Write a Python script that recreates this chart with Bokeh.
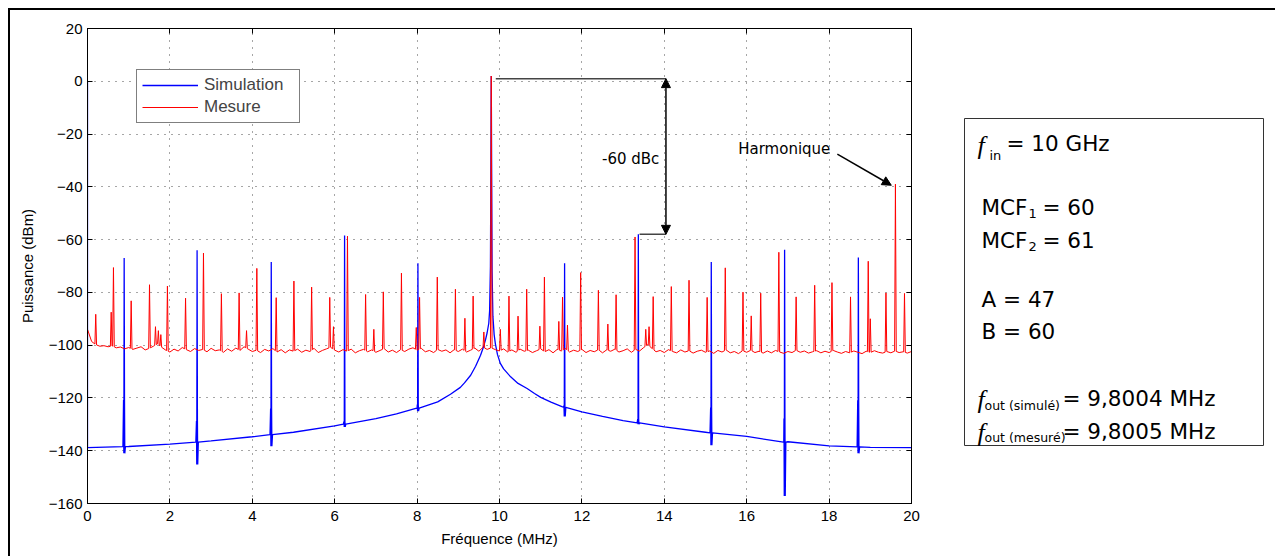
import numpy as np
from bokeh.plotting import figure
from bokeh.models import (Range1d, LinearAxis, FixedTicker, CustomJSTickFormatter, Legend,
                          LegendItem, Arrow, NormalHead, Label)
from bokeh.layouts import row
from bokeh.embed import file_html
from bokeh.resources import INLINE

# ---------------- data ----------------
x_ticks = [0, 2, 4, 6, 8, 10, 12, 14, 16, 18, 20]
y_ticks = [-160, -140, -120, -100, -80, -60, -40, -20, 0, 20]

# Mesure (red): noise floor sampled every 0.1 MHz, 0 .. 20 MHz
red_floor_step = 0.1
red_floor = [
    -94.0, -98.6, -99.8, -100.4, -100.2, -100.6, -100.3, -101.0, -100.7, -101.4,
    -100.9, -101.6, -101.1, -100.6, -101.8, -101.2, -100.4, -99.5, -100.8, -101.9,
    -102.6, -101.5, -102.2, -100.9, -101.7, -102.4, -101.3, -102.0, -101.6, -102.5,
    -101.2, -102.1, -101.8, -102.7, -101.4, -102.3, -101.1, -102.0, -100.6, -101.5,
    -102.4, -101.9, -102.8, -101.6, -102.2, -101.3, -102.6, -101.7, -102.9, -101.8,
    -102.3, -101.5, -102.7, -101.9, -102.4, -101.2, -102.8, -102.0, -101.4, -100.8,
    -101.9, -102.6, -101.7, -102.3, -101.5, -102.9, -102.1, -101.6, -102.5, -101.8,
    -102.7, -102.0, -101.3, -102.6, -101.9, -102.8, -101.7, -102.4, -101.5, -101.0,
    -101.9, -101.2, -102.5, -102.0, -102.8, -101.6, -102.3, -101.8, -102.9, -101.7,
    -102.4, -101.5, -102.6, -101.9, -101.1, -102.3, -100.8, -101.6, -101.0, -101.7,
    -102.2, -101.4, -102.6, -101.8, -102.7, -101.5, -102.3, -101.9, -102.8, -102.1,
    -101.4, -102.5, -101.7, -102.9, -101.6, -102.2, -101.3, -102.6, -101.9, -102.4,
    -101.6, -102.8, -102.0, -102.5, -101.7, -102.9, -101.8, -102.3, -101.5, -102.6,
    -102.1, -101.4, -102.7, -101.6, -102.2, -100.9, -99.8, -101.2, -102.5, -102.0,
    -102.8, -101.7, -102.4, -102.9, -101.8, -102.6, -102.1, -103.0, -102.3, -101.9,
    -102.7, -102.2, -103.1, -102.0, -102.6, -101.8, -102.9, -102.4, -103.2, -102.1,
    -102.7, -101.9, -102.8, -102.3, -103.0, -102.2, -102.9, -102.0, -102.6, -103.1,
    -102.4, -102.8, -101.9, -102.7, -102.2, -103.0, -102.5, -102.1, -102.9, -102.3,
    -102.8, -102.0, -102.6, -103.1, -102.4, -102.9, -102.2, -102.7, -103.2, -102.3,
    -102.8, -102.1, -102.7, -103.0, -102.4, -102.9, -102.2, -102.8, -102.5, -103.0,
    -102.4,
]
red_dc = -37.0
red_spur_freq = [
    0.20, 0.575, 0.63, 1.06, 1.505, 1.65, 1.72, 1.78, 1.94, 2.38, 2.815, 3.25, 3.68,
    3.86, 4.11, 4.58, 5.01, 5.44, 5.88, 5.97, 6.31, 6.75, 6.95, 7.18, 7.62, 7.98,
    8.06, 8.49, 8.93, 9.16, 9.36, 9.62, 9.80, 10.02, 10.23, 10.45, 10.66, 10.98,
    11.09, 11.44, 11.53, 11.65, 11.97, 12.40, 12.63, 12.83, 13.29, 13.55, 13.63,
    13.73, 14.17, 14.60, 15.04, 15.48, 15.91, 16.11, 16.34, 16.78, 17.20, 17.65,
    18.07, 18.52, 18.95, 19.00, 19.38, 19.61, 19.83,
]
red_spur_level = [
    -88.3, -87.5, -70.6, -83.2, -77.1, -93.0, -94.5, -96.0, -77.6, -82.2, -65.1, -80.5, -80.2,
    -94.5, -70.9, -82.0, -75.7, -78.0, -81.9, -93.0, -58.7, -80.8, -94.0, -79.8, -72.7, -93.3,
    -81.9, -74.2, -78.8, -89.8, -81.4, -95.0, 2.0, -94.0, -81.4, -89.0, -78.8, -92.8,
    -74.2, -91.0, -81.8, -92.4, -72.5, -79.2, -92.0, -80.9, -59.0, -94.0, -93.0,
    -81.6, -77.8, -75.4, -81.9, -70.7, -79.9, -88.9, -80.3, -64.8, -81.7, -77.3,
    -76.3, -81.7, -68.2, -90.0, -80.2, -39.0, -80.4,
]

# Simulation (blue): smooth floor + carrier skirt
blue_dc = 0.0
blue_base_freq = [0.0, 1.0, 2.0, 3.0, 4.0, 5.0, 6.0, 7.0, 7.5, 8.0, 8.5, 8.81, 9.05, 9.15,
                  9.3, 9.42, 9.54, 9.6, 9.66, 9.70, 9.74, 9.76, 9.78, 9.80, 9.82, 9.84,
                  9.87, 9.9, 9.95, 10.02, 10.1, 10.27, 10.45, 10.67, 10.85, 11.0, 11.25,
                  11.5, 12.0, 12.5, 13.0, 14.0, 15.0, 16.0, 16.9, 17.0, 18.0, 19.0, 20.0]
blue_base_level = [-138.8, -138.4, -137.5, -136.3, -134.7, -133.0, -130.6, -127.8, -126.0,
                   -124.0, -121.5, -118.6, -116.0, -114.3, -111.4, -108.0, -103.8, -101.2,
                   -98.0, -95.3, -91.7, -87.0, -70.0, 2.0, -72.0, -89.0, -96.0, -99.5,
                   -103.5, -106.9, -109.0, -112.0, -114.5, -116.4, -118.3, -119.8, -121.6,
                   -123.2, -125.3, -127.0, -128.6, -131.0, -133.0, -134.6, -136.8, -136.6,
                   -138.2, -138.7, -138.8]
# Simulation spurs: frequency, top, small overshoot and dip at the base
blue_spur_freq = [0.89, 2.66, 4.46, 6.24, 8.02, 11.58, 13.37, 15.14, 16.92, 18.71]
blue_spur_peak = [-67.0, -64.0, -68.5, -58.4, -69.0, -69.0, -58.0, -68.5, -63.8, -66.8]
blue_spur_hi = [-120.8, -128.7, -124.0, -129.0, -122.5, -123.0, -128.0, -123.6, -127.8, -120.9]
blue_spur_lo = [-141.0, -145.2, -138.3, -131.0, -125.0, -127.0, -130.0, -137.9, -157.2, -141.0]

# annotation values
carrier_ref_level = 1.0
spur_ref_level = -58.0
dbc_arrow_freq = 14.04
dbc_line_start = 9.91
dbc_spur_line_start = 13.40
dbc_text_pos = (13.88, -29.5)
harm_text_pos = (18.03, -25.5)
harm_arrow = (18.20, -27.6, 19.51, -39.4)

# ---------------- build traces ----------------
fg = np.arange(len(red_floor)) * red_floor_step
floor = np.array(red_floor)
hw = 0.02
keep = np.ones(len(fg), dtype=bool)
for f in red_spur_freq:
    keep &= np.abs(fg - f) > hw
pts = list(zip(fg[keep], floor[keep]))
for f, lvl in zip(red_spur_freq, red_spur_level):
    pts.append((f - hw, float(np.interp(f - hw, fg, floor))))
    pts.append((f, lvl))
    pts.append((f + hw, float(np.interp(f + hw, fg, floor))))
pts.sort(key=lambda t: t[0])
red_x = [0.0] + [p[0] for p in pts]
red_y = [red_dc] + [p[1] for p in pts]

bx = np.array(blue_base_freq)
by = np.array(blue_base_level)
bpts = list(zip(bx, by))
for f, pk, hi, lo in zip(blue_spur_freq, blue_spur_peak, blue_spur_hi, blue_spur_lo):
    b = float(np.interp(f, bx, by))
    bpts += [(f - 0.03, b), (f - 0.015, hi), (f - 0.008, lo), (f, pk),
             (f + 0.008, hi), (f + 0.015, lo), (f + 0.03, b)]
bpts.sort(key=lambda t: t[0])
blue_x = [0.0] + [p[0] for p in bpts]
blue_y = [blue_dc] + [p[1] for p in bpts]

# ---------------- main figure ----------------
FONT = "Liberation Sans"
p = figure(frame_width=824, frame_height=475, min_border_left=77, min_border_right=29,
           min_border_top=18, min_border_bottom=53,
           x_range=Range1d(0, 20), y_range=Range1d(-160, 20),
           toolbar_location=None, output_backend="svg")
p.outline_line_color = "black"
p.outline_line_width = 1
p.background_fill_color = "white"
p.border_fill_color = "white"

fmt = CustomJSTickFormatter(code="return tick < 0 ? '\u2212' + Math.abs(tick) : String(tick);")
for ax in p.xaxis + p.yaxis:
    ax.major_tick_in = 5
    ax.major_tick_out = 0
    ax.minor_tick_in = 0
    ax.minor_tick_out = 0
    ax.axis_line_color = "black"
    ax.major_tick_line_color = "black"
    ax.major_label_text_font = FONT
    ax.major_label_text_font_size = "15px"
    ax.major_label_text_color = "black"
    ax.axis_label_text_font = FONT
    ax.axis_label_text_font_size = "15px"
    ax.axis_label_text_font_style = "normal"
    ax.axis_label_text_color = "black"
p.xaxis.ticker = FixedTicker(ticks=x_ticks)
p.yaxis.ticker = FixedTicker(ticks=y_ticks)
p.yaxis.formatter = fmt
p.xaxis.axis_label = "Fréquence (MHz)"
p.yaxis.axis_label = "Puissance (dBm)"
p.xaxis.major_label_standoff = 7
p.yaxis.major_label_standoff = 5
p.xaxis.axis_label_standoff = 6
p.yaxis.axis_label_standoff = 10

blank = CustomJSTickFormatter(code="return '';")
for loc, tks in (("above", x_ticks), ("right", y_ticks)):
    ax = LinearAxis(ticker=FixedTicker(ticks=tks), formatter=blank, major_tick_in=5,
                    major_tick_out=0, minor_tick_in=0, minor_tick_out=0,
                    major_label_standoff=0, axis_line_color="black")
    p.add_layout(ax, loc)

p.xgrid.ticker = FixedTicker(ticks=x_ticks)
p.ygrid.ticker = FixedTicker(ticks=y_ticks)
for g in (p.xgrid, p.ygrid):
    g.grid_line_color = "#222222"
    g.grid_line_alpha = 0.8
    g.grid_line_dash = "1 6"
    g.grid_line_width = 1

r_sim = p.line(blue_x, blue_y, line_color="#0000ff", line_width=1.3)
r_mes = p.line(red_x, red_y, line_color="#ff0000", line_width=1.0)

legend = Legend(items=[LegendItem(label="Simulation", renderers=[r_sim]),
                       LegendItem(label="Mesure", renderers=[r_mes])],
                location=(49, 380), padding=5, spacing=2, margin=0,
                glyph_width=56, glyph_height=20, label_standoff=6, label_width=90,
                label_text_font=FONT, label_text_font_size="17px",
                border_line_color="black", border_line_width=1,
                background_fill_color="white", background_fill_alpha=1.0)
p.add_layout(legend)

# -60 dBc annotation
p.segment(x0=[dbc_line_start, dbc_spur_line_start], x1=[dbc_arrow_freq, dbc_arrow_freq],
          y0=[carrier_ref_level, spur_ref_level], y1=[carrier_ref_level, spur_ref_level],
          line_color="#444444", line_width=1.5)
p.add_layout(Arrow(start=NormalHead(size=9, fill_color="black", line_color="black"),
                   end=NormalHead(size=9, fill_color="black", line_color="black"),
                   x_start=dbc_arrow_freq, y_start=carrier_ref_level,
                   x_end=dbc_arrow_freq, y_end=spur_ref_level,
                   line_color="black", line_width=1.5))
p.add_layout(Label(x=dbc_text_pos[0], y=dbc_text_pos[1], text="-60 dBc",
                   text_font="DejaVu Sans", text_font_size="15px", text_align="right",
                   text_baseline="middle", text_color="black"))
p.add_layout(Label(x=harm_text_pos[0], y=harm_text_pos[1], text="Harmonique",
                   text_font="DejaVu Sans", text_font_size="15px", text_align="right",
                   text_baseline="middle", text_color="black"))
p.add_layout(Arrow(end=NormalHead(size=9, fill_color="black", line_color="black"),
                   x_start=harm_arrow[0], y_start=harm_arrow[1],
                   x_end=harm_arrow[2], y_end=harm_arrow[3],
                   line_color="black", line_width=1.5))

# ---------------- info box figure ----------------
# The row aligns this figure's frame with the main frame (page y 28..503),
# so the ranges below are expressed in page pixels.
p2 = figure(width=335, height=546, x_range=Range1d(940, 1275), y_range=Range1d(503, 28),
            toolbar_location=None, output_backend="svg", min_border=0,
            x_axis_type=None, y_axis_type=None)
p2.outline_line_color = None
p2.border_fill_color = "white"
p2.quad(left=[964], right=[1263], top=[118], bottom=[445], fill_color=None,
        line_color="#333333", line_width=1)

BOXF = "DejaVu Sans"


def lab(x, y, t, size, font=BOXF, style="normal"):
    p2.add_layout(Label(x=x, y=y, text=t, text_font=font, text_font_size=size,
                        text_font_style=style, text_baseline="middle", text_align="left",
                        text_color="black"))


lab(977, 145, "f", "26px", "Liberation Serif", "italic")
lab(989, 155, "in", "13px")
lab(1006, 143, "= 10 GHz", "21.5px")
lab(981, 207, "MCF", "21.5px")
lab(1028, 213, "1", "13px")
lab(1042, 207, "= 60", "21.5px")
lab(981, 240, "MCF", "21.5px")
lab(1028, 246, "2", "13px")
lab(1042, 240, "= 61", "21.5px")
lab(981, 299, "A = 47", "21.5px")
lab(981, 331, "B = 60", "21.5px")
lab(977, 399, "f", "26px", "Liberation Serif", "italic")
lab(984, 405, "out (simulé)", "12.5px")
lab(1062, 398, "= 9,8004 MHz", "21.5px")
lab(977, 432, "f", "26px", "Liberation Serif", "italic")
lab(984, 437, "out (mesuré)", "12.5px")
lab(1062, 431, "= 9,8005 MHz", "21.5px")

layout = row(p, p2, styles={"border-top": "2px solid black", "border-left": "2px solid black",
                            "margin-top": "8px", "margin-left": "8px"})

open("out.html", "w").write(file_html(layout, INLINE))
